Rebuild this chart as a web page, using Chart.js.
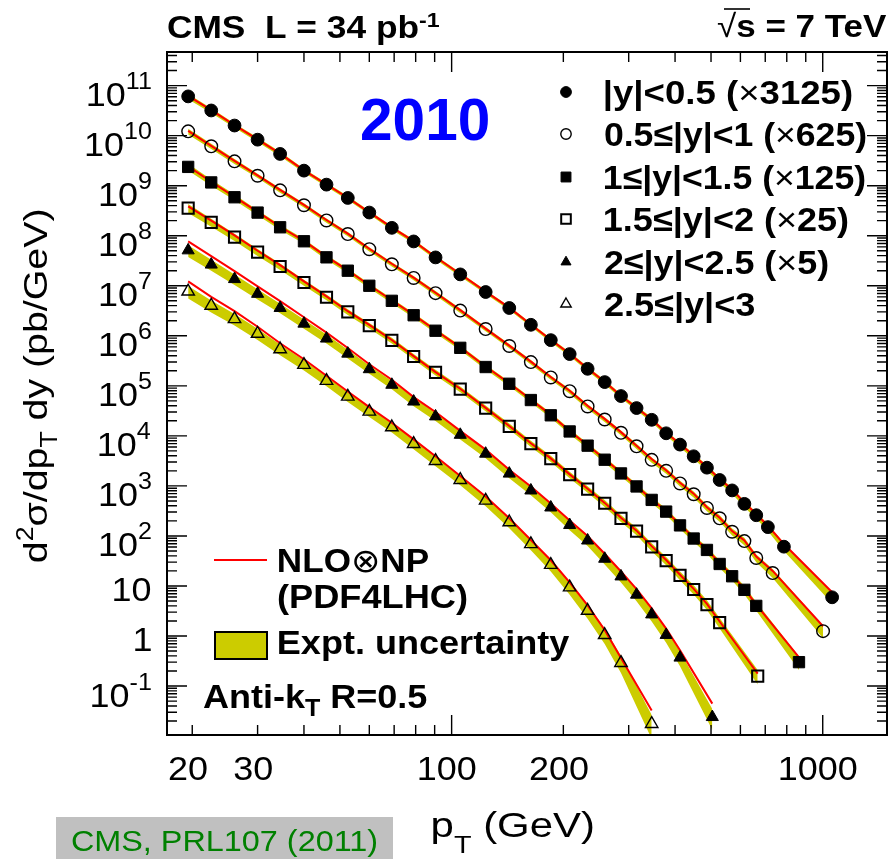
<!DOCTYPE html>
<html>
<head>
<meta charset="utf-8">
<script src="https://cdn.jsdelivr.net/npm/chart.js@4.4.1/dist/chart.umd.min.js"></script>
<style>
  html, body { margin: 0; padding: 0; background: #fff; }
  canvas { display: block; }
</style>
</head>
<body>
<canvas id="c" width="890" height="859"></canvas>
<script>
// Inclusive jet cross sections, anti-kT R=0.5, 34 pb^-1 at 7 TeV.
// Values are d2sigma/dpT dy in pb/GeV before the per-bin display factor.

const rapidityLabels = ['|y|<0.5', '0.5≤|y|<1', '1≤|y|<1.5', '1.5≤|y|<2', '2≤|y|<2.5', '2.5≤|y|<3'];
const scaleFactors = [3125, 625, 125, 25, 5, 1];

// |y| < 0.5
const ptY0 = [19.5,22.5,26,30,34.5,40,46,52.5,60,69,79,90.5,105.5,123.5,143,163.5,185,208,232.5,258.5,286,315,346,378.5,412.5,449,487.5,527.5,570,615,662,711.5,786,1060];
const xsecY0 = [1.95e7,1.02e7,5.1e6,2.66e6,1.38e6,6.4e5,3.36e5,1.82e5,9.3e4,4.6e4,2.46e4,1.18e4,5.4e3,2.4e3,1.15e3,531,262,138,70,38,20,11.5,6.7,3.6,2.14,1.25,0.74,0.42,0.26,0.14,0.083,0.048,0.0195,0.0019];
const nloY0 = [2.0e7,1.04e7,5.2e6,2.7e6,1.4e6,6.5e5,3.4e5,1.84e5,9.4e4,4.7e4,2.5e4,1.2e4,5.5e3,2.45e3,1.17e3,540,266,140,71,38.5,20.3,11.7,6.8,3.7,2.2,1.29,0.76,0.44,0.27,0.148,0.088,0.051,0.022,0.0024];
const uncY0 = [0.12,0.11,0.10,0.10,0.10,0.09,0.09,0.09,0.09,0.09,0.09,0.09,0.09,0.09,0.09,0.09,0.09,0.10,0.10,0.10,0.10,0.11,0.11,0.11,0.12,0.12,0.13,0.13,0.14,0.14,0.15,0.16,0.18,0.25];

// 0.5 <= |y| < 1
const ptY1 = [19.5,22.5,26,30,34.5,40,46,52.5,60,69,79,90.5,105.5,123.5,143,163.5,185,208,232.5,258.5,286,315,346,378.5,412.5,449,487.5,527.5,570,615,662,733,1002];
const xsecY1 = [1.95e7,9.8e6,4.9e6,2.53e6,1.29e6,6.5e5,3.23e5,1.73e5,8.6e4,4.3e4,2.29e4,1.14e4,5.1e3,2.18e3,1.0e3,477,235,125,62,34,18.4,9.9,5.3,3.2,1.79,1.09,0.58,0.36,0.194,0.126,0.058,0.029,0.002];
const nloY1 = [2.0e7,1.0e7,5.0e6,2.58e6,1.32e6,6.6e5,3.3e5,1.76e5,8.8e4,4.4e4,2.33e4,1.16e4,5.2e3,2.22e3,1.02e3,487,240,128,64,35,19,10.2,5.5,3.3,1.85,1.12,0.6,0.37,0.2,0.13,0.062,0.032,0.0025];
const uncY1 = [0.13,0.12,0.11,0.10,0.10,0.10,0.10,0.10,0.10,0.10,0.10,0.10,0.10,0.10,0.10,0.10,0.10,0.11,0.11,0.11,0.11,0.12,0.12,0.13,0.13,0.14,0.14,0.15,0.16,0.17,0.18,0.20,0.28];

// 1 <= |y| < 1.5
const ptY2 = [19.5,22.5,26,30,34.5,40,46,52.5,60,69,79,90.5,105.5,123.5,143,163.5,185,208,232.5,258.5,286,315,346,378.5,412.5,449,487.5,527.5,570,615,662,863];
const xsecY2 = [1.9e7,9.3e6,4.7e6,2.32e6,1.18e6,6.2e5,2.96e5,1.6e5,8.0e4,4.0e4,2.06e4,1.01e4,4.6e3,1.9e3,880,416,206,98,51,26.7,14.2,7.8,4.2,2.45,1.3,0.71,0.42,0.22,0.125,0.067,0.032,0.0024];
const nloY2 = [1.95e7,9.6e6,4.8e6,2.4e6,1.21e6,6.3e5,3.05e5,1.63e5,8.2e4,4.1e4,2.1e4,1.03e4,4.7e3,1.95e3,900,425,210,100,52,27.5,14.6,8.0,4.3,2.5,1.35,0.74,0.43,0.23,0.13,0.07,0.034,0.003];
const uncY2 = [0.15,0.14,0.13,0.12,0.12,0.11,0.11,0.11,0.11,0.11,0.11,0.11,0.11,0.11,0.11,0.11,0.12,0.12,0.12,0.13,0.13,0.13,0.14,0.14,0.15,0.15,0.16,0.17,0.18,0.19,0.20,0.30];

// 1.5 <= |y| < 2
const ptY3 = [19.5,22.5,26,30,34.5,40,46,52.5,60,69,79,90.5,105.5,123.5,143,163.5,185,208,232.5,258.5,286,315,346,378.5,412.5,449,487.5,527.5,668];
const xsecY3 = [1.43e7,7.4e6,3.76e6,1.88e6,9.7e5,4.64e5,2.36e5,1.2e5,6.4e4,3.24e4,1.54e4,7.4e3,3.44e3,1.43e3,620,280,140,67,34.4,18,9.0,5.0,2.42,1.28,0.65,0.34,0.17,0.074,0.0063];
const nloY3 = [1.55e7,8.0e6,4.05e6,2.0e6,1.03e6,4.9e5,2.45e5,1.24e5,6.6e4,3.3e4,1.57e4,7.5e3,3.5e3,1.45e3,630,285,142,68,35,18.3,9.2,5.1,2.5,1.32,0.67,0.35,0.176,0.078,0.0071];
const uncY3 = [0.20,0.18,0.17,0.16,0.15,0.14,0.13,0.13,0.13,0.13,0.13,0.13,0.13,0.13,0.14,0.14,0.14,0.15,0.15,0.16,0.16,0.17,0.18,0.19,0.20,0.21,0.22,0.24,0.32];

// 2 <= |y| < 2.5
const ptY4 = [19.5,22.5,26,30,34.5,40,46,52.5,60,69,79,90.5,105.5,123.5,143,163.5,185,208,232.5,258.5,286,315,346,378.5,412.5,504];
const xsecY4 = [1.02e7,5.3e6,2.72e6,1.38e6,7.2e5,3.5e5,1.76e5,8.8e4,4.3e4,2.1e4,9.7e3,4.9e3,2.1e3,880,352,162,74,33,16.2,7.0,3.1,1.34,0.54,0.21,0.074,0.0048];
const nloY4 = [1.54e7,7.8e6,3.93e6,1.95e6,9.9e5,4.7e5,2.32e5,1.14e5,5.4e4,2.65e4,1.19e4,6.0e3,2.52e3,1.06e3,422,194,89,40.6,19.9,8.8,3.9,1.73,0.71,0.28,0.104,0.0089];
const uncY4 = [0.26,0.25,0.24,0.23,0.22,0.21,0.20,0.20,0.19,0.19,0.19,0.19,0.19,0.19,0.19,0.20,0.20,0.21,0.22,0.23,0.24,0.26,0.28,0.30,0.33,0.45];

// 2.5 <= |y| < 3
const ptY5 = [19.5,22.5,26,30,34.5,40,46,52.5,60,69,79,90.5,105.5,123.5,143,163.5,185,208,232.5,258.5,286,346];
const xsecY5 = [7.7e6,4.0e6,2.16e6,1.1e6,5.4e5,2.63e5,1.26e5,6.1e4,3.06e4,1.49e4,6.9e3,3.16e3,1.32e3,510,188,69,26.5,9.4,3.2,1.05,0.29,0.0175];
const nloY5 = [1.22e7,6.0e6,3.12e6,1.52e6,7.1e5,3.4e5,1.59e5,7.7e4,3.76e4,1.83e4,8.5e3,3.9e3,1.58e3,612,226,83,32.6,11.8,4.1,1.32,0.365,0.0326];
const uncY5 = [0.28,0.27,0.26,0.25,0.24,0.23,0.22,0.22,0.22,0.22,0.22,0.22,0.22,0.23,0.24,0.25,0.27,0.29,0.31,0.34,0.37,0.50];

// Axis tick labels
const xTickLabels = [20, 30, 100, 200, 1000];
const yTickExponents = [-1, 0, 1, 2, 3, 4, 5, 6, 7, 8, 9, 10, 11];

const ptBins = [ptY0, ptY1, ptY2, ptY3, ptY4, ptY5];
const xsecs = [xsecY0, xsecY1, xsecY2, xsecY3, xsecY4, xsecY5];
const nlos = [nloY0, nloY1, nloY2, nloY3, nloY4, nloY5];
const uncs = [uncY0, uncY1, uncY2, uncY3, uncY4, uncY5];

// Marker look per rapidity bin (r: on the plot, lr: in the legend)
const markers = [
  { style: 'circle',   filled: true,  r: 6.4, bw: 1,   lr: 5.4 },
  { style: 'circle',   filled: false, r: 6.3, bw: 1.4, lr: 5.2 },
  { style: 'rect',     filled: true,  r: 8.0, bw: 1,   lr: 7.0 },
  { style: 'rect',     filled: false, r: 7.9, bw: 2,   lr: 6.8 },
  { style: 'triangle', filled: true,  r: 7.0, bw: 1,   lr: 5.8 },
  { style: 'triangle', filled: false, r: 7.2, bw: 1.4, lr: 6.0 }
];

const BAND = '#cccc00';
const SANS = "'Liberation Sans', Arial, Helvetica, 'DejaVu Sans', sans-serif";
const B = s => 'bold ' + s + 'px ' + SANS;
const R = s => s + 'px ' + SANS;

const datasets = [];
ptBins.forEach((pts, i) => {
  const k = scaleFactors[i];
  const m = markers[i];
  datasets.push({
    data: pts.map((x, j) => ({ x, y: xsecs[i][j] * (1 + uncs[i][j]) * k })),
    fill: '+1', backgroundColor: BAND, borderColor: 'rgba(0,0,0,0)', borderWidth: 0,
    pointRadius: 0, order: 3
  });
  datasets.push({
    data: pts.map((x, j) => ({ x, y: xsecs[i][j] * (1 - uncs[i][j]) * k })),
    fill: false, borderColor: 'rgba(0,0,0,0)', borderWidth: 0, pointRadius: 0, order: 3
  });
  datasets.push({
    data: pts.map((x, j) => ({ x, y: nlos[i][j] * k })),
    fill: false, borderColor: '#ff0000', borderWidth: 2, pointRadius: 0, order: 2
  });
  datasets.push({
    data: pts.map((x, j) => ({ x, y: xsecs[i][j] * k })),
    showLine: false, fill: false,
    pointStyle: m.style, pointRadius: m.r, pointBorderWidth: m.bw,
    pointBorderColor: '#000',
    pointBackgroundColor: m.filled ? '#000' : 'rgba(0,0,0,0)',
    order: 1
  });
});

// --- text helpers: runs of differently styled text fitted between two ink edges
function layoutRuns(ctx, runs) {
  let x = 0, inkL = Infinity, inkR = -Infinity;
  const placed = runs.map(r => {
    ctx.font = r.font;
    const m = ctx.measureText(r.t);
    const p = { r, x };
    inkL = Math.min(inkL, x - m.actualBoundingBoxLeft);
    inkR = Math.max(inkR, x + m.actualBoundingBoxRight);
    x += m.width;
    return p;
  });
  return { placed, inkL, inkR };
}
function paintRuns(ctx, L, color) {
  ctx.fillStyle = color || '#000';
  ctx.textAlign = 'left';
  ctx.textBaseline = 'alphabetic';
  for (const p of L.placed) { ctx.font = p.r.font; ctx.fillText(p.r.t, p.x, p.r.dy || 0); }
}
function fitRuns(ctx, runs, x0, x1, baseline, color) {
  const L = layoutRuns(ctx, runs);
  const sx = (x1 - x0) / (L.inkR - L.inkL);
  ctx.save();
  ctx.translate(x0, baseline);
  ctx.scale(sx, 1);
  ctx.translate(-L.inkL, 0);
  paintRuns(ctx, L, color);
  ctx.restore();
}
function alignRuns(ctx, runs, x, baseline, align, sx, color) {
  const L = layoutRuns(ctx, runs);
  const w = (L.inkR - L.inkL) * sx;
  const x0 = align === 'right' ? x - w : align === 'center' ? x - w / 2 : x;
  ctx.save();
  ctx.translate(x0, baseline);
  ctx.scale(sx, 1);
  ctx.translate(-L.inkL, 0);
  paintRuns(ctx, L, color);
  ctx.restore();
}
function drawMarker(ctx, m, x, y) {
  const r = m.lr;
  ctx.beginPath();
  if (m.style === 'circle') ctx.arc(x, y, r, 0, 2 * Math.PI);
  else if (m.style === 'rect') { const s = Math.SQRT1_2 * r; ctx.rect(x - s, y - s, 2 * s, 2 * s); }
  else {
    ctx.moveTo(x, y - r);
    ctx.lineTo(x + r * Math.sin(2 * Math.PI / 3), y - r * Math.cos(2 * Math.PI / 3));
    ctx.lineTo(x + r * Math.sin(4 * Math.PI / 3), y - r * Math.cos(4 * Math.PI / 3));
    ctx.closePath();
  }
  if (m.filled) { ctx.fillStyle = '#000'; ctx.fill(); }
  ctx.lineWidth = m.bw; ctx.strokeStyle = '#000'; ctx.stroke();
}

const decorations = {
  id: 'decorations',
  afterDatasetsDraw(chart) {
    const ctx = chart.ctx;
    const xs = chart.scales.x, ys = chart.scales.y;
    const { left, right, top, bottom } = chart.chartArea;
    ctx.save();

    // ticks on all four sides, pointing inwards
    ctx.strokeStyle = '#000';
    ctx.lineWidth = 1.4;
    ctx.beginPath();
    for (let e = 1; e <= 3; e++) {
      for (let k = 1; k <= 9; k++) {
        const v = k * Math.pow(10, e);
        if (v < xs.min || v > xs.max) continue;
        const p = xs.getPixelForValue(v);
        const len = k === 1 ? 20 : 10;
        ctx.moveTo(p, bottom); ctx.lineTo(p, bottom - len);
        ctx.moveTo(p, top); ctx.lineTo(p, top + len);
      }
    }
    for (let e = -2; e <= 11; e++) {
      for (let k = 1; k <= 9; k++) {
        const v = k * Math.pow(10, e);
        if (v < ys.min || v > ys.max) continue;
        const p = ys.getPixelForValue(v);
        const len = k === 1 ? 20 : 10;
        ctx.moveTo(left, p); ctx.lineTo(left + len, p);
        ctx.moveTo(right, p); ctx.lineTo(right - len, p);
      }
    }
    ctx.stroke();
    ctx.lineWidth = 2;
    ctx.strokeRect(left, top, right - left, bottom - top);

    // y tick labels
    const SX = 1.09;
    yTickExponents.forEach(e => {
      const p = ys.getPixelForValue(Math.pow(10, e));
      if (e === 0) alignRuns(ctx, [{ t: '1', font: R(33) }], 151, p + 15.5, 'right', SX);
      else if (e === 1) alignRuns(ctx, [{ t: '10', font: R(33) }], 151, p + 15.5, 'right', SX);
      else alignRuns(ctx, [{ t: '10', font: R(33) }, { t: String(e), font: R(23), dy: -17 }], 151, p + 20.5, 'right', SX);
    });
    // x tick labels
    xTickLabels.forEach(v => {
      const p = xs.getPixelForValue(v);
      alignRuns(ctx, [{ t: String(v), font: R(33) }], p - 4, 780, 'center', SX);
    });

    // axis titles
    fitRuns(ctx, [{ t: 'p', font: R(35) }, { t: 'T', font: R(24), dy: 16 }, { t: ' (GeV)', font: R(35) }], 433, 593, 837);
    ctx.save();
    ctx.translate(47, 562);
    ctx.rotate(-Math.PI / 2);
    fitRuns(ctx, [
      { t: 'd', font: R(34) }, { t: '2', font: R(23), dy: -14 },
      { t: 'σ/dp', font: R(34) }, { t: 'T', font: R(23), dy: 10 },
      { t: ' dy (pb/GeV)', font: R(34) }
    ], 0, 352, 0);
    ctx.restore();

    // header
    fitRuns(ctx, [{ t: 'CMS  L = 34 pb', font: B(32) }, { t: '-1', font: B(21), dy: -11 }], 168, 440, 38);
    fitRuns(ctx, [{ t: '√', font: R(32) }, { t: 's = 7 TeV', font: B(32) }], 717, 887, 37);
    ctx.lineWidth = 1.6;
    ctx.beginPath(); ctx.moveTo(724, 9); ctx.lineTo(750, 9); ctx.stroke();
    fitRuns(ctx, [{ t: '2010', font: B(60) }], 362, 488, 140, '#0000ff');

    // rapidity legend
    const rowY = [92, 134, 177, 219, 262, 304];
    const rowEnd = [852, 866, 865, 848, 828, 755];
    rapidityLabels.forEach((lab, i) => {
      const k = scaleFactors[i];
      const runs = k === 1 ? [{ t: lab, font: B(33) }]
        : [{ t: lab + ' (', font: B(33) }, { t: '×', font: R(33) }, { t: k + ')', font: B(33) }];
      drawMarker(ctx, markers[i], 566, rowY[i]);
      fitRuns(ctx, runs, 605, rowEnd[i], rowY[i] + 11.7);
    });

    // theory / uncertainty legend
    ctx.strokeStyle = '#ff0000'; ctx.lineWidth = 2;
    ctx.beginPath(); ctx.moveTo(214, 560); ctx.lineTo(267, 560); ctx.stroke();
    fitRuns(ctx, [{ t: 'NLO', font: B(33) }, { t: '⊗', font: R(33) }, { t: 'NP', font: B(33) }], 279, 428, 572);
    fitRuns(ctx, [{ t: '(PDF4LHC)', font: B(33) }], 278, 467, 608);
    ctx.fillStyle = BAND; ctx.fillRect(215, 632, 52, 27);
    ctx.strokeStyle = '#000'; ctx.lineWidth = 2; ctx.strokeRect(215, 632, 52, 27);
    fitRuns(ctx, [{ t: 'Expt. uncertainty', font: B(33) }], 279, 570, 654);
    fitRuns(ctx, [{ t: 'Anti-k', font: B(33) }, { t: 'T', font: B(23), dy: 8 }, { t: ' R=0.5', font: B(33) }], 203, 427, 708);

    // reference tag
    ctx.fillStyle = '#c0c0c0';
    ctx.fillRect(56, 817, 337, 42);
    fitRuns(ctx, [{ t: 'CMS, PRL107 (2011)', font: R(30) }], 72, 377, 851, '#008000');

    ctx.restore();
  }
};

new Chart(document.getElementById('c'), {
  type: 'line',
  data: { datasets },
  options: {
    responsive: false,
    animation: false,
    events: [],
    layout: { autoPadding: false, padding: { left: 167, right: 3, top: 52, bottom: 124 } },
    elements: { line: { tension: 0 } },
    scales: {
      x: { type: 'logarithmic', min: 17.1, max: 1490, display: false },
      y: { type: 'logarithmic', min: 0.0105, max: 4.7e11, display: false }
    },
    plugins: { legend: { display: false }, tooltip: { enabled: false } }
  },
  plugins: [decorations]
});
</script>
</body>
</html>
